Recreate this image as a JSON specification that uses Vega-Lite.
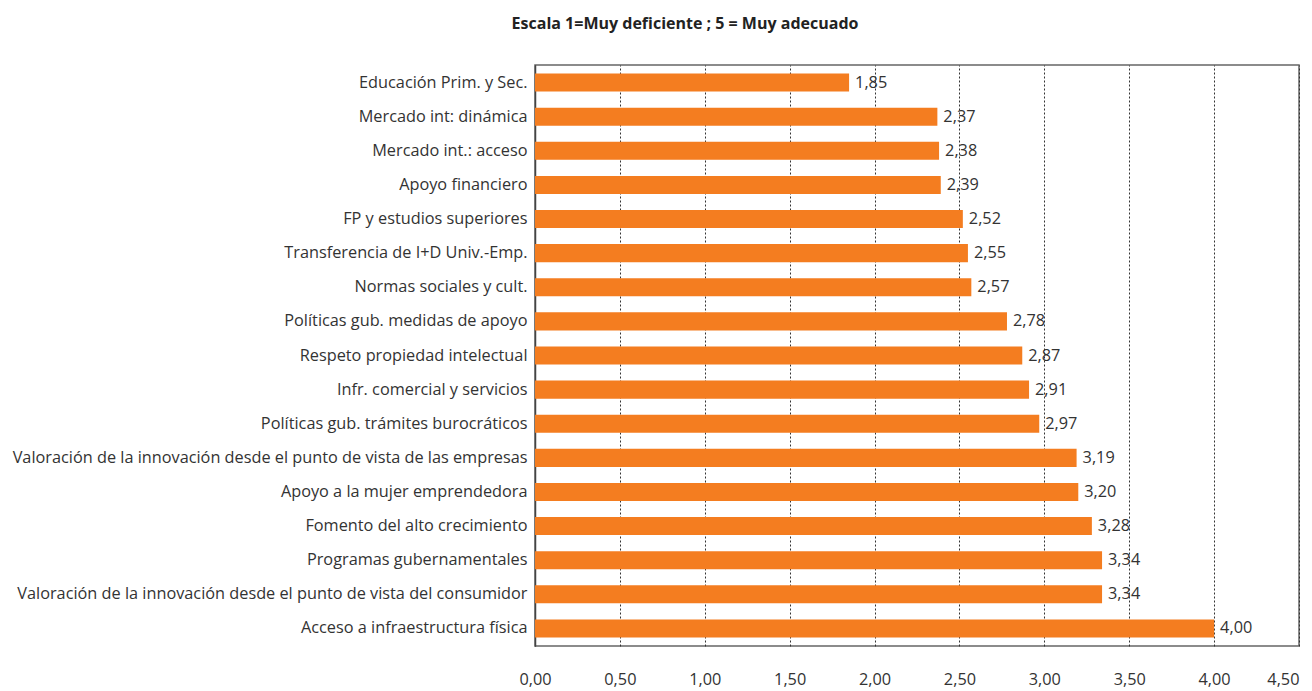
{
  "$schema": "https://vega.github.io/schema/vega-lite/v6.json",
  "autosize": "none",
  "width": 764,
  "height": 581,
  "padding": {"left": 535, "top": 65, "right": 13, "bottom": 45},
  "background": "white",
  "title": {
    "text": "Escala 1=Muy deficiente ; 5 = Muy adecuado",
    "font": "Open Sans",
    "fontSize": 16,
    "fontWeight": "bold",
    "color": "#222",
    "anchor": "middle",
    "dx": -232,
    "offset": 33
  },
  "data": {
    "values": [
      {"item": "Educación Prim. y Sec.", "valor": 1.85},
      {"item": "Mercado int: dinámica", "valor": 2.37},
      {"item": "Mercado int.: acceso", "valor": 2.38},
      {"item": "Apoyo financiero", "valor": 2.39},
      {"item": "FP y estudios superiores", "valor": 2.52},
      {"item": "Transferencia de I+D Univ.-Emp.", "valor": 2.55},
      {"item": "Normas sociales y cult.", "valor": 2.57},
      {"item": "Políticas gub. medidas de apoyo", "valor": 2.78},
      {"item": "Respeto propiedad intelectual", "valor": 2.87},
      {"item": "Infr. comercial y servicios", "valor": 2.91},
      {"item": "Políticas gub. trámites burocráticos", "valor": 2.97},
      {"item": "Valoración de la innovación desde el punto de vista de las empresas", "valor": 3.19},
      {"item": "Apoyo a la mujer emprendedora", "valor": 3.20},
      {"item": "Fomento del alto crecimiento", "valor": 3.28},
      {"item": "Programas gubernamentales", "valor": 3.34},
      {"item": "Valoración de la innovación desde el punto de vista del consumidor", "valor": 3.34},
      {"item": "Acceso a infraestructura física", "valor": 4.00}
    ]
  },
  "encoding": {
    "y": {
      "field": "item",
      "type": "nominal",
      "sort": null,
      "title": null,
      "scale": {"paddingInner": 0.47, "paddingOuter": 0.25},
      "axis": {
        "labelFont": "Open Sans",
        "labelFontSize": 16.3,
        "labelColor": "#333",
        "labelPadding": 8,
        "labelLimit": 600,
        "ticks": false,
        "domain": true,
        "domainColor": "#444",
        "domainWidth": 1.5,
        "grid": false
      }
    },
    "x": {
      "field": "valor",
      "type": "quantitative",
      "title": null,
      "scale": {"domain": [0, 4.5], "nice": false},
      "axis": {
        "values": [0, 0.5, 1, 1.5, 2, 2.5, 3, 3.5, 4, 4.5],
        "format": ".2f",
        "labelFont": "Open Sans",
        "labelFontSize": 16.3,
        "labelColor": "#333",
        "labelPadding": 25,
        "labelAlign": {"expr": "datum.value == 4.5 ? 'right' : 'center'"},
        "labelOverlap": false,
        "ticks": false,
        "domain": false,
        "grid": true,
        "gridColor": "#333",
        "gridDash": [2, 2],
        "gridWidth": 1,
        "labelFlush": false
      }
    }
  },
  "layer": [
    {"mark": {"type": "bar", "color": "#F47D20"}},
    {
      "mark": {"type": "text", "align": "left", "dx": 6, "font": "Open Sans", "fontSize": 16.3, "color": "#333"},
      "encoding": {"text": {"field": "valor", "type": "quantitative", "format": ".2f"}}
    }
  ],
  "config": {
    "locale": {
      "number": {"decimal": ",", "thousands": ".", "grouping": [3], "currency": ["", " €"]}
    },
    "view": {"stroke": "#666", "strokeWidth": 1.5}
  }
}
